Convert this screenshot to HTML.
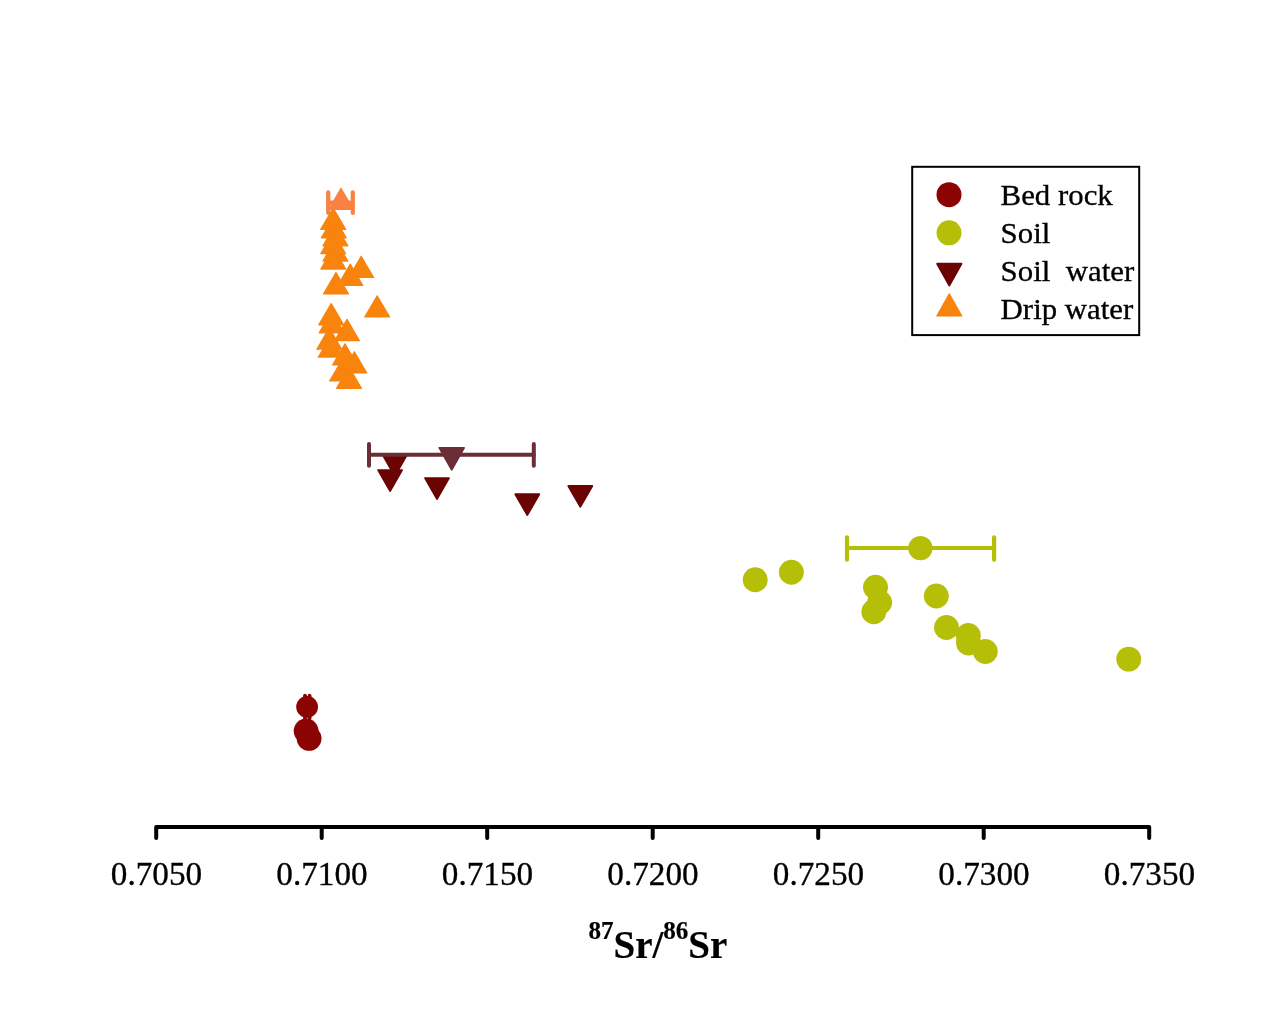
<!DOCTYPE html>
<html><head><meta charset="utf-8"><title>87Sr/86Sr</title>
<style>
html,body{margin:0;padding:0;background:#fff;}
body{width:1270px;height:1009px;overflow:hidden;}
svg{display:block;}
text{font-family:"Liberation Serif","Times New Roman",serif;fill:#000;stroke:#000;stroke-width:0.35px;}
</style></head><body>
<svg width="1270" height="1009" viewBox="0 0 1270 1009">
<rect width="1270" height="1009" fill="#fff"/>

<g id="bedrock">
<circle cx="306.1" cy="731" r="12.4" fill="#8B0303"/>
<circle cx="309.1" cy="738.4" r="12.4" fill="#8B0303"/>
<g stroke="#8B0303" stroke-width="3.8" stroke-linecap="round" fill="none"><line x1="305.0" y1="707" x2="309.6" y2="707"/><line x1="305.0" y1="695.70" x2="305.0" y2="718.30"/><line x1="309.6" y1="695.70" x2="309.6" y2="718.30"/></g>
<circle cx="307.1" cy="706.9" r="10.9" fill="#8B0303"/>
</g>
<g id="soil">
<circle cx="755.2" cy="579.8" r="12.45" fill="#B6BF08"/>
<circle cx="791.4" cy="572.2" r="12.45" fill="#B6BF08"/>
<circle cx="875.5" cy="587.2" r="12.45" fill="#B6BF08"/>
<circle cx="879.6" cy="602.5" r="12.45" fill="#B6BF08"/>
<circle cx="873.8" cy="611.7" r="12.45" fill="#B6BF08"/>
<circle cx="936.3" cy="596" r="12.45" fill="#B6BF08"/>
<circle cx="946.5" cy="627.5" r="12.45" fill="#B6BF08"/>
<circle cx="968.3" cy="635.5" r="12.45" fill="#B6BF08"/>
<circle cx="968.5" cy="643.0" r="12.45" fill="#B6BF08"/>
<circle cx="985.3" cy="651.5" r="12.45" fill="#B6BF08"/>
<circle cx="1128.7" cy="659.1" r="12.45" fill="#B6BF08"/>
<g stroke="#B6BF08" stroke-width="4.2" stroke-linecap="round" fill="none"><line x1="847.0" y1="548.0" x2="994.1" y2="548.0"/><line x1="847.0" y1="537.30" x2="847.0" y2="559.70"/><line x1="994.1" y1="537.30" x2="994.1" y2="559.70"/></g>
<circle cx="920.4" cy="548.1" r="12.2" fill="#B6BF08"/>
</g>
<g id="soilwater">
<polygon points="382.80,455.10 406.80,455.10 394.80,476.00" fill="#6B0303" stroke="#6B0303" stroke-width="1.8" stroke-linejoin="round"/>
<polygon points="378.10,470.10 402.10,470.10 390.10,491.00" fill="#6B0303" stroke="#6B0303" stroke-width="1.8" stroke-linejoin="round"/>
<polygon points="425.00,478.10 449.00,478.10 437.00,499.00" fill="#6B0303" stroke="#6B0303" stroke-width="1.8" stroke-linejoin="round"/>
<polygon points="515.30,494.20 539.30,494.20 527.30,515.10" fill="#6B0303" stroke="#6B0303" stroke-width="1.8" stroke-linejoin="round"/>
<polygon points="568.30,486.00 592.30,486.00 580.30,506.90" fill="#6B0303" stroke="#6B0303" stroke-width="1.8" stroke-linejoin="round"/>
<g stroke="#6B2E36" stroke-width="4.0" stroke-linecap="round" fill="none"><line x1="369" y1="454.8" x2="533.8" y2="454.8"/><line x1="369" y1="443.90" x2="369" y2="465.70"/><line x1="533.8" y1="443.90" x2="533.8" y2="465.70"/></g>
<polygon points="439.30,447.90 464.10,447.90 451.70,469.70" fill="#6B2E36" stroke="#6B2E36" stroke-width="1.8" stroke-linejoin="round"/>
</g>
<g id="drip">
<polygon points="320.75,229.40 345.65,229.40 333.20,208.10" fill="#F8840D" stroke="#F8840D" stroke-width="1.2" stroke-linejoin="round"/>
<polygon points="321.35,237.90 346.25,237.90 333.80,216.60" fill="#F8840D" stroke="#F8840D" stroke-width="1.2" stroke-linejoin="round"/>
<polygon points="322.95,245.80 347.85,245.80 335.40,224.50" fill="#F8840D" stroke="#F8840D" stroke-width="1.2" stroke-linejoin="round"/>
<polygon points="320.75,253.70 345.65,253.70 333.20,232.40" fill="#F8840D" stroke="#F8840D" stroke-width="1.2" stroke-linejoin="round"/>
<polygon points="322.95,261.10 347.85,261.10 335.40,239.80" fill="#F8840D" stroke="#F8840D" stroke-width="1.2" stroke-linejoin="round"/>
<polygon points="320.85,269.10 345.75,269.10 333.30,247.80" fill="#F8840D" stroke="#F8840D" stroke-width="1.2" stroke-linejoin="round"/>
<polygon points="348.75,277.50 373.65,277.50 361.20,256.20" fill="#F8840D" stroke="#F8840D" stroke-width="1.2" stroke-linejoin="round"/>
<polygon points="337.85,285.40 362.75,285.40 350.30,264.10" fill="#F8840D" stroke="#F8840D" stroke-width="1.2" stroke-linejoin="round"/>
<polygon points="323.55,293.90 348.45,293.90 336.00,272.60" fill="#F8840D" stroke="#F8840D" stroke-width="1.2" stroke-linejoin="round"/>
<polygon points="364.75,317.00 389.65,317.00 377.20,295.70" fill="#F8840D" stroke="#F8840D" stroke-width="1.2" stroke-linejoin="round"/>
<polygon points="318.75,324.90 343.65,324.90 331.20,303.60" fill="#F8840D" stroke="#F8840D" stroke-width="1.2" stroke-linejoin="round"/>
<polygon points="319.15,332.80 344.05,332.80 331.60,311.50" fill="#F8840D" stroke="#F8840D" stroke-width="1.2" stroke-linejoin="round"/>
<polygon points="334.55,340.70 359.45,340.70 347.00,319.40" fill="#F8840D" stroke="#F8840D" stroke-width="1.2" stroke-linejoin="round"/>
<polygon points="316.85,349.20 341.75,349.20 329.30,327.90" fill="#F8840D" stroke="#F8840D" stroke-width="1.2" stroke-linejoin="round"/>
<polygon points="318.35,357.10 343.25,357.10 330.80,335.80" fill="#F8840D" stroke="#F8840D" stroke-width="1.2" stroke-linejoin="round"/>
<polygon points="332.55,365.00 357.45,365.00 345.00,343.70" fill="#F8840D" stroke="#F8840D" stroke-width="1.2" stroke-linejoin="round"/>
<polygon points="341.95,373.00 366.85,373.00 354.40,351.70" fill="#F8840D" stroke="#F8840D" stroke-width="1.2" stroke-linejoin="round"/>
<polygon points="329.75,380.90 354.65,380.90 342.20,359.60" fill="#F8840D" stroke="#F8840D" stroke-width="1.2" stroke-linejoin="round"/>
<polygon points="336.55,388.30 361.45,388.30 349.00,367.00" fill="#F8840D" stroke="#F8840D" stroke-width="1.2" stroke-linejoin="round"/>
<g stroke="#F98141" stroke-width="4.2" stroke-linecap="round" fill="none"><line x1="328.2" y1="202.6" x2="352.8" y2="202.6"/><line x1="328.2" y1="192.30" x2="328.2" y2="212.90"/><line x1="352.8" y1="192.30" x2="352.8" y2="212.90"/></g>
<polygon points="328.80,209.40 353.20,209.40 341.00,188.40" fill="#F98141" stroke="#F98141" stroke-width="1.2" stroke-linejoin="round"/>
</g>
<g id="axis" stroke="#000" stroke-width="4" fill="none" stroke-linecap="round" stroke-linejoin="round">
<polyline points="156.2,838 156.2,826.9 1149.2,826.9 1149.2,838"/>
<line x1="321.7" y1="826.9" x2="321.7" y2="838"/>
<line x1="487.2" y1="826.9" x2="487.2" y2="838"/>
<line x1="652.7" y1="826.9" x2="652.7" y2="838"/>
<line x1="818.2" y1="826.9" x2="818.2" y2="838"/>
<line x1="983.7" y1="826.9" x2="983.7" y2="838"/>
</g>
<g id="ticklabels" font-size="34.4" text-anchor="middle">
<text transform="translate(156.5,885.3) scale(0.966,1)">0.7050</text>
<text transform="translate(322.0,885.3) scale(0.966,1)">0.7100</text>
<text transform="translate(487.5,885.3) scale(0.966,1)">0.7150</text>
<text transform="translate(653.0,885.3) scale(0.966,1)">0.7200</text>
<text transform="translate(818.5,885.3) scale(0.966,1)">0.7250</text>
<text transform="translate(984.0,885.3) scale(0.966,1)">0.7300</text>
<text transform="translate(1149.5,885.3) scale(0.966,1)">0.7350</text>
</g>
<text id="xtitle" transform="translate(588.4,958.4) scale(0.965,1)" font-size="40.4" font-weight="bold" style="stroke-width:0.2px"><tspan font-size="26" dy="-19.8">87</tspan><tspan dy="19.8">Sr/</tspan><tspan font-size="26" dy="-19.8">86</tspan><tspan dy="19.8">Sr</tspan></text>
<g id="legend">
<rect x="912.2" y="166.8" width="227" height="168.3" fill="#fff" stroke="#000" stroke-width="2"/>
<circle cx="949" cy="194.7" r="12.5" fill="#8B0303"/>
<circle cx="949" cy="232.8" r="12.5" fill="#B6BF08"/>
<polygon points="937.10,263.70 961.50,263.70 949.30,285.50" fill="#6B0303" stroke="#6B0303" stroke-width="1.8" stroke-linejoin="round"/>
<polygon points="936.80,316.00 961.80,316.00 949.30,293.80" fill="#F8840D" stroke="#F8840D" stroke-width="1.2" stroke-linejoin="round"/>
<text transform="translate(1000.6,205.0) scale(1.035,1)" font-size="29.8">Bed rock</text>
<text transform="translate(1000.6,243.2) scale(1.035,1)" font-size="29.8">Soil</text>
<text transform="translate(1000.6,281.0) scale(1.035,1)" font-size="29.8">Soil  water</text>
<text transform="translate(1000.6,318.8) scale(1.035,1)" font-size="29.8">Drip water</text>
</g>
</svg></body></html>
